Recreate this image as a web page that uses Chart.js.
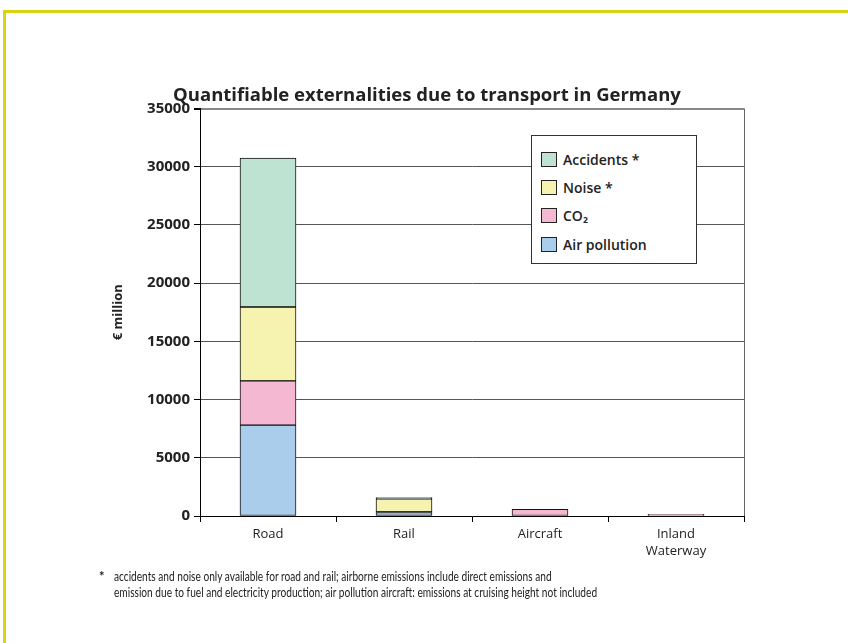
<!DOCTYPE html>
<html>
<head>
<meta charset="utf-8">
<title>Quantifiable externalities due to transport in Germany</title>
<script src="https://cdn.jsdelivr.net/npm/chart.js@4/dist/chart.umd.min.js"></script>
<style>
  html, body { margin: 0; padding: 0; background: #fff; }
  body { width: 848px; height: 643px; position: relative; overflow: hidden; font-family: "Open Sans", sans-serif; color: #222; }
  .frame { position: absolute; left: 3px; top: 10px; right: 0; bottom: 0; border-top: 3px solid #d9d412; border-left: 3px solid #d9d412; }
  #chart { position: absolute; left: 0; top: 0; }
  #legend { position: absolute; left: 531px; top: 135px; width: 166px; height: 129px; box-sizing: border-box;
            border: 1px solid #333; background: #fff; padding: 9px 0 0 9px; }
  #legend .item { display: flex; align-items: center; height: 28.3px; font-weight: 600; font-size: 14px; }
  #legend .swatch { width: 14px; height: 13px; border: 1px solid #222; margin-right: 6px; }
  .note { position: absolute; left: 99px; top: 568px; display: flex; font-family: Lato, sans-serif; }
  .note .star { width: 15px; font-size: 13px; font-weight: bold; line-height: 16px; }
  .note .text { font-size: 13px; line-height: 16px; white-space: nowrap; transform: scaleX(0.78); transform-origin: left top; }
</style>
</head>
<body>
<div class="frame"></div>
<canvas id="chart" width="848" height="643"></canvas>
<div id="legend"></div>
<div class="note"><span class="star">*</span><span class="text">accidents and noise only available for road and rail; airborne emissions include direct emissions and<br>emission due to fuel and electricity production; air pollution aircraft: emissions at cruising height not included</span></div>
<script>
// € million per mode of transport
const modes = ['Road', 'Rail', 'Aircraft', ['Inland', 'Waterway']];
const airPollution = [7800, 300, 40, 90];
const co2 = [3800, 80, 540, 60];
const noise = [6350, 1100, null, null];   // only road and rail
const accidents = [12800, 100, null, null];

const yMax = 35000;
const yStep = 5000;

const series = [
  { label: 'Air pollution', data: airPollution, color: '#abcdec' },
  { label: 'CO₂', data: co2, color: '#f5b8d3' },
  { label: 'Noise *', data: noise, color: '#f6f3b1' },
  { label: 'Accidents *', data: accidents, color: '#bee3d3' },
];

// right-hand frame of the plot area
const plotFrame = {
  id: 'plotFrame',
  afterDraw(chart) {
    const { ctx, chartArea } = chart;
    ctx.save();
    ctx.strokeStyle = '#666';
    ctx.lineWidth = 1;
    ctx.beginPath();
    ctx.moveTo(Math.round(chartArea.right) + 0.5, chartArea.top);
    ctx.lineTo(Math.round(chartArea.right) + 0.5, chartArea.bottom);
    ctx.stroke();
    ctx.restore();
  }
};

Chart.defaults.font.family = '"Open Sans", sans-serif';
Chart.defaults.color = '#222';

const chart = new Chart(document.getElementById('chart'), {
  type: 'bar',
  plugins: [plotFrame],
  data: {
    labels: modes,
    datasets: series.map(s => ({
      label: s.label,
      data: s.data,
      backgroundColor: s.color,
      borderColor: '#111',
      borderWidth: 1,
      borderSkipped: false,
      barThickness: 56,
    })),
  },
  options: {
    responsive: false,
    animation: false,
    layout: { padding: { left: 110, right: 104, top: 86, bottom: 75 } },
    plugins: {
      legend: { display: false },
      tooltip: { enabled: false },
      title: {
        display: true,
        text: 'Quantifiable externalities due to transport in Germany',
        font: { size: 18.5, weight: 'bold', lineHeight: 1 },
        color: '#222',
        padding: { top: 0, bottom: 4 },
      },
    },
    scales: {
      x: {
        stacked: true,
        grid: { offset: true, drawOnChartArea: false, tickLength: 6, color: '#000' },
        border: { color: '#000' },
        ticks: { font: { size: 13, lineHeight: 1.3 }, padding: 4, color: '#222' },
        afterFit(scale) { scale.height = 52; },
      },
      y: {
        stacked: true,
        min: 0,
        max: yMax,
        ticks: {
          stepSize: yStep,
          font: { size: 15, weight: 'bold' },
          padding: 4,
          color: '#222',
          callback: v => String(v),
        },
        grid: {
          color: ctx => ctx.tick && ctx.tick.value === yMax ? '#888' : '#555',
          lineWidth: ctx => ctx.tick && ctx.tick.value === yMax ? 2 : 1,
          tickLength: 6,
          tickColor: '#000',
        },
        border: { color: '#000' },
        title: { display: true, text: '€ million', font: { size: 13, weight: 'bold' }, color: '#222', padding: 0 },
        afterFit(scale) { scale.width = 90; },
      },
    },
  },
});

// legend box, top entry is the top of the stack
const legend = document.getElementById('legend');
chart.data.datasets.slice().reverse().forEach(ds => {
  const item = document.createElement('div');
  item.className = 'item';
  const swatch = document.createElement('span');
  swatch.className = 'swatch';
  swatch.style.background = ds.backgroundColor;
  const text = document.createElement('span');
  text.textContent = ds.label;
  item.appendChild(swatch);
  item.appendChild(text);
  legend.appendChild(item);
});
</script>
</body>
</html>
